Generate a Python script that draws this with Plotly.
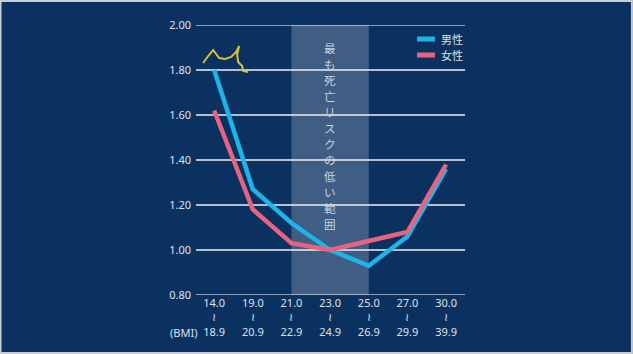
import plotly.graph_objects as go

categories = ["14.0", "19.0", "21.0", "23.0", "25.0", "27.0", "30.0"]
upper = ["18.9", "20.9", "22.9", "24.9", "26.9", "29.9", "39.9"]
male = [1.80, 1.27, 1.12, 1.00, 0.93, 1.06, 1.36]
female = [1.62, 1.18, 1.03, 1.00, 1.04, 1.08, 1.38]
yticks = [0.80, 1.00, 1.20, 1.40, 1.60, 1.80, 2.00]
band_label = "最も死亡リスクの低い範囲"
series_names = ["男性", "女性"]
series_colors = ["#1eb4ea", "#e8637f"]

BG = "#0b3161"
TXT = "#dde3ec"
GRID = "rgba(225,230,236,0.8)"
FONT = "Noto Sans, Noto Sans CJK JP"

# pixel geometry of plot area
L, R, T, B = 196, 168, 25, 59
PW, PH = 633 - L - R, 354 - T - B

x = list(range(len(categories)))
ticktext = [f"{a}<br>≀<br>{b}" for a, b in zip(categories, upper)]

fig = go.Figure()
for name, vals, col in zip(series_names, [male, female], series_colors):
    fig.add_trace(go.Scatter(x=x, y=vals, mode="lines", name=name,
                             line=dict(color=col, width=4.5), showlegend=False))

# shaded band
fig.add_shape(type="rect", xref="x", yref="y", x0=2, x1=4, y0=0.8, y1=2.0,
              fillcolor="rgba(255,255,255,0.22)", line_width=0, layer="below")

# edge gridlines (0.80 and 2.00)
for v in (yticks[0], yticks[-1]):
    fig.add_shape(type="line", xref="paper", yref="y", x0=0, x1=1, y0=v, y1=v,
                  line=dict(color=GRID, width=1.5), layer="below")

def py2paper(py):
    return 1 - (py - T) / PH

def px2paper(px):
    return (px - L) / PW

# vertical label, one character per row
for i, ch in enumerate(band_label):
    fig.add_annotation(x=3, xref="x", y=py2paper(48 + 16 * i), yref="paper",
                       text=ch, showarrow=False, yanchor="middle", borderpad=0,
                       font=dict(family="Noto Sans CJK JP", size=11.6, color="#c9d2de"))

fig.add_annotation(x=px2paper(199), xref="paper", y=py2paper(332), yref="paper",
                   text="(BMI)", showarrow=False, xanchor="right", yanchor="middle",
                   font=dict(family=FONT, size=11, color=TXT))

# manual legend
for i, (name, col) in enumerate(zip(series_names, series_colors)):
    yy = py2paper(39 + 16 * i)
    fig.add_shape(type="line", xref="paper", yref="paper",
                  x0=px2paper(417), x1=px2paper(435), y0=yy, y1=yy,
                  line=dict(color=col, width=5))
    fig.add_annotation(x=px2paper(440), xref="paper", y=yy, yref="paper",
                       text=name, showarrow=False, xanchor="left", yanchor="middle",
                       borderpad=0,
                       font=dict(family="Noto Sans CJK JP", size=11, color=TXT))

# hand-drawn yellow squiggle
def px2d(px, py):
    return (px - 214) / 38.67, 1.0 + (250 - py) / 225.0

pts = [(203, 63), (208, 56), (213, 50), (216, 54), (219, 58), (225, 59),
       (231, 57), (236, 52), (239, 46), (237, 54), (238, 62), (242, 66),
       (243, 71), (248, 72)]
d = []
for i, (a, b) in enumerate(pts):
    xx, yy = px2d(a, b)
    d.append(("M" if i == 0 else "L") + f"{xx:.4f},{yy:.4f}")
fig.add_shape(type="path", xref="x", yref="y", path=" ".join(d),
              line=dict(color="#d8c23a", width=2))

# thin light frame around whole image
fig.add_shape(type="rect", xref="paper", yref="paper",
              x0=-L/PW + 0.002, x1=1 + R/PW - 0.004,
              y0=-B/PH + 0.004, y1=1 + T/PH - 0.004,
              line=dict(color="#c8cdd4", width=2), fillcolor="rgba(0,0,0,0)")

fig.update_layout(
    width=633, height=354,
    margin=dict(l=L, r=R, t=T, b=B),
    paper_bgcolor=BG, plot_bgcolor=BG,
    font=dict(family=FONT, size=11, color=TXT),
    showlegend=False,
    xaxis=dict(range=[-0.47, 6.49], tickmode="array", tickvals=x,
               ticktext=ticktext, showgrid=False, zeroline=False,
               showline=False, ticks="", fixedrange=True,
               tickfont=dict(size=11, color=TXT)),
    yaxis=dict(range=[0.8, 2.0], tickmode="array", tickvals=yticks,
               ticktext=[f"{v:.2f}" for v in yticks],
               showgrid=True, gridcolor=GRID, gridwidth=1.5,
               zeroline=False, showline=False, ticks="", fixedrange=True,
               ticklabelstandoff=4,
               tickfont=dict(size=11, color=TXT)),
)

fig.write_html("out.html")
